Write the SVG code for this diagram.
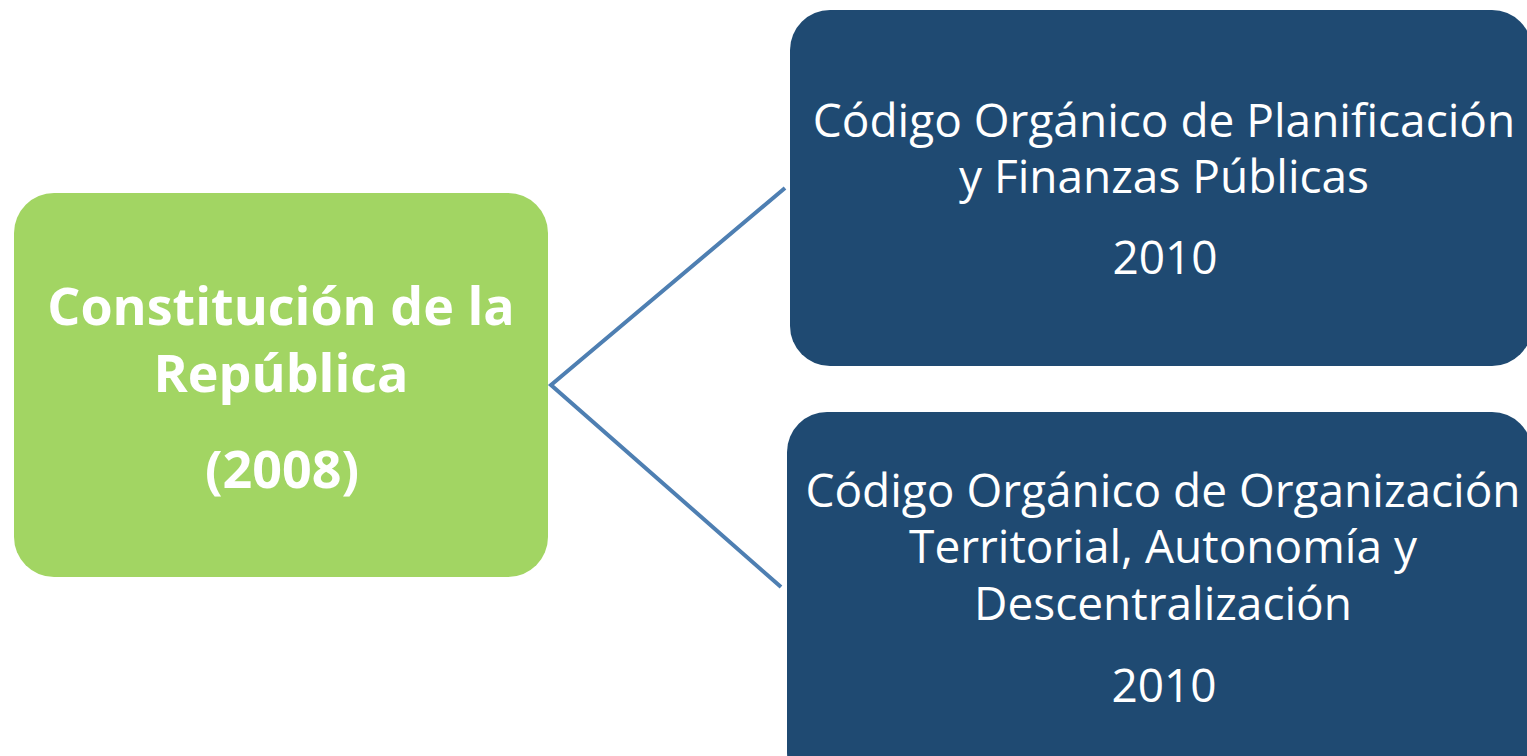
<svg xmlns="http://www.w3.org/2000/svg" width="1527" height="756" viewBox="0 0 1527 756">
<style>
.green{fill:#a2d563}
.blue{fill:#1f4a72}
.t{font-family:"Open Sans","Liberation Sans",sans-serif;fill:#ffffff;text-anchor:middle}
.tb{font-size:52px;font-weight:bold}
.tr{font-size:46px}
.conn{stroke:#4e7fb2;stroke-width:4;fill:none}
</style>
<rect width="1527" height="756" fill="#ffffff"/>
<g id="connectors">
<polyline class="conn" points="785,188 551,385 781,587"/>
</g>
<g id="node-constitucion">
<rect class="green" x="14" y="193" width="534" height="384" rx="40"/>
<text class="t tb" x="281" y="325">Constitución de la</text>
<text class="t tb" x="281" y="392">República</text>
<text class="t tb" x="282" y="488">(2008)</text>
</g>
<g id="node-planificacion">
<rect class="blue" x="790" y="10" width="742" height="356" rx="40"/>
<text class="t tr" x="1164" y="137">Código Orgánico de Planificación</text>
<text class="t tr" x="1164" y="193">y Finanzas Públicas</text>
<text class="t tr" x="1165" y="274">2010</text>
</g>
<g id="node-organizacion">
<rect class="blue" x="787" y="412" width="745" height="380" rx="40"/>
<text class="t tr" x="1163" y="507">Código Orgánico de Organización</text>
<text class="t tr" x="1163" y="563">Territorial, Autonomía y</text>
<text class="t tr" x="1163" y="620">Descentralización</text>
<text class="t tr" x="1164" y="702">2010</text>
</g>
</svg>
